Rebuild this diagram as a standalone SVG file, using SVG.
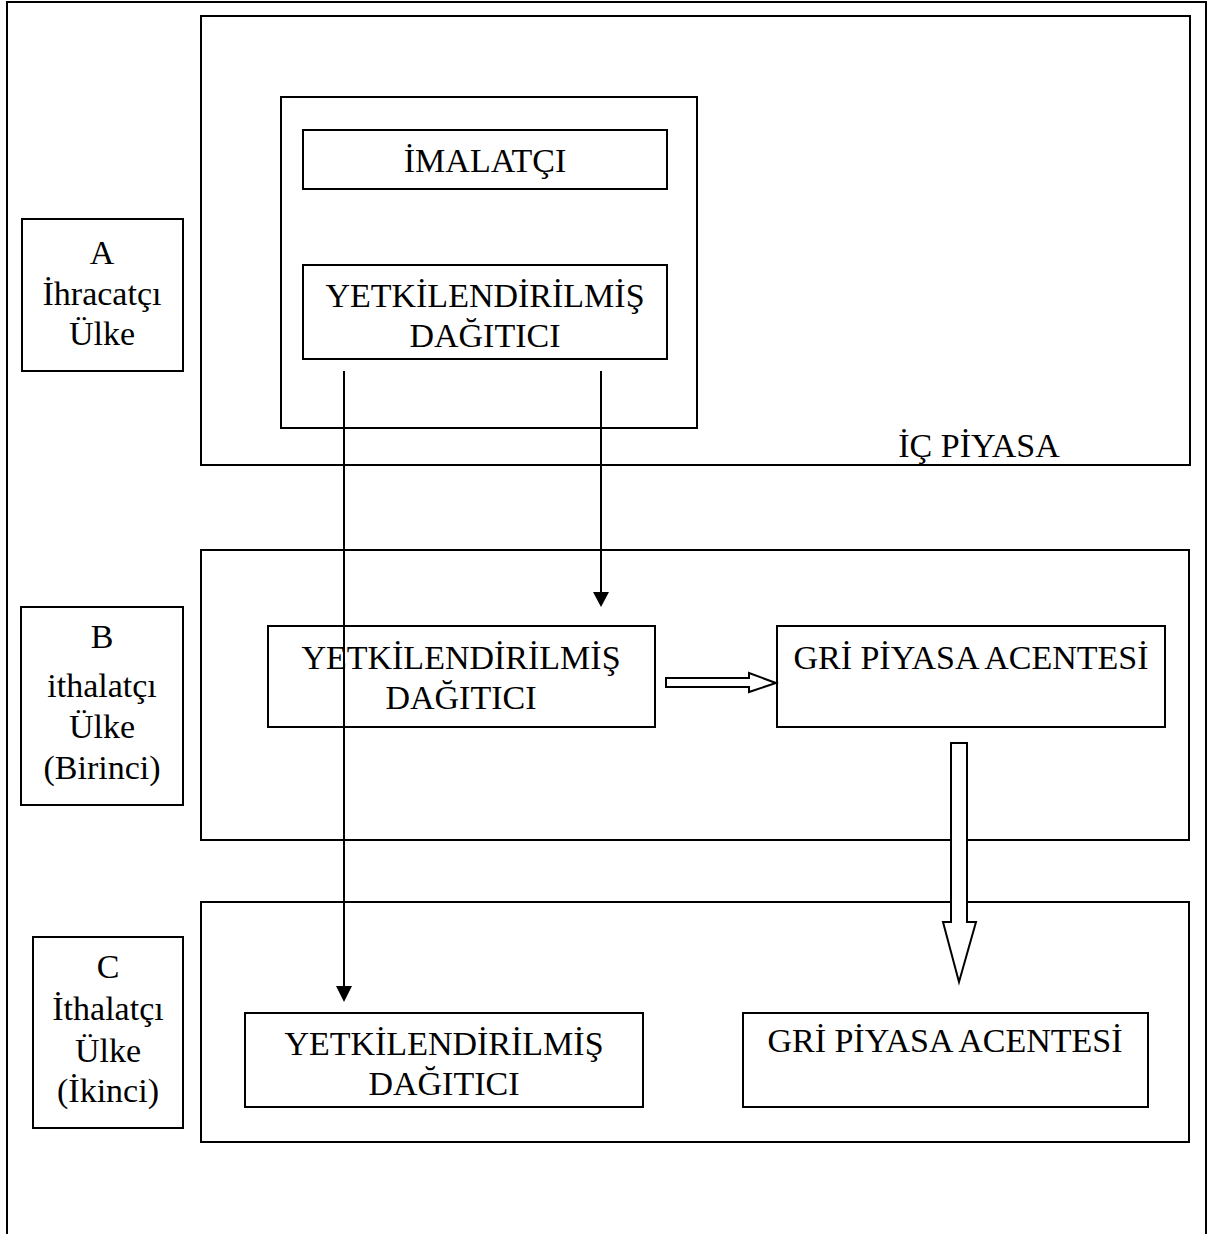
<svg xmlns="http://www.w3.org/2000/svg" width="1209" height="1234" viewBox="0 0 1209 1234">
<style>
.box{fill:#fff;stroke:#000;stroke-width:2}
.frame{fill:none;stroke:#000;stroke-width:2}
.t{font-family:"Liberation Serif","Times New Roman",serif;font-size:34px;fill:#000;text-anchor:middle}
.ln{stroke:#000;stroke-width:2;fill:none}
.hol{fill:#fff;stroke:#000;stroke-width:2;stroke-linejoin:miter}
</style>
<rect width="1209" height="1234" fill="#fff"/>
<path class="frame" d="M7,1234 V2 H1206 V1234" stroke-width="3"/>
<g id="region-a"><rect class="box" x="201" y="16" width="989" height="449"/><text class="t" x="979" y="457">İÇ PİYASA</text></g>
<g id="inner-a"><rect class="box" x="281" y="97" width="416" height="331"/></g>
<g id="imalatci"><rect class="box" x="303" y="130" width="364" height="59"/><text class="t" x="485" y="172">İMALATÇI</text></g>
<g id="yetkili-a"><rect class="box" x="303" y="265" width="364" height="94"/><text class="t" x="485" y="307">YETKİLENDİRİLMİŞ</text><text class="t" x="485" y="347">DAĞITICI</text></g>
<g id="label-a"><rect class="box" x="22" y="219" width="161" height="152"/><text class="t" x="102" y="264">A</text><text class="t" x="102" y="305">İhracatçı</text><text class="t" x="102" y="345">Ülke</text></g>
<g id="region-b"><rect class="box" x="201" y="550" width="988" height="290"/></g>
<g id="label-b"><rect class="box" x="21" y="607" width="162" height="198"/><text class="t" x="102" y="648">B</text><text class="t" x="102" y="697">ithalatçı</text><text class="t" x="102" y="738">Ülke</text><text class="t" x="102" y="779">(Birinci)</text></g>
<g id="yetkili-b"><rect class="box" x="268" y="626" width="387" height="101"/><text class="t" x="461" y="669">YETKİLENDİRİLMİŞ</text><text class="t" x="461" y="709">DAĞITICI</text></g>
<g id="gri-b"><rect class="box" x="777" y="626" width="388" height="101"/><text class="t" x="971" y="669">GRİ PİYASA ACENTESİ</text></g>
<g id="region-c"><rect class="box" x="201" y="902" width="988" height="240"/></g>
<g id="label-c"><rect class="box" x="33" y="937" width="150" height="191"/><text class="t" x="108" y="978">C</text><text class="t" x="108" y="1020">İthalatçı</text><text class="t" x="108" y="1062">Ülke</text><text class="t" x="108" y="1102">(İkinci)</text></g>
<g id="yetkili-c"><rect class="box" x="245" y="1013" width="398" height="94"/><text class="t" x="444" y="1055">YETKİLENDİRİLMİŞ</text><text class="t" x="444" y="1095">DAĞITICI</text></g>
<g id="gri-c"><rect class="box" x="743" y="1013" width="405" height="94"/><text class="t" x="945" y="1052">GRİ PİYASA ACENTESİ</text></g>
<g id="connectors">
<line class="ln" x1="344" y1="371" x2="344" y2="990"/>
<polygon points="336,986 352,986 344,1002" fill="#000"/>
<line class="ln" x1="601" y1="371" x2="601" y2="595"/>
<polygon points="593,592 609,592 601,607" fill="#000"/>
<polygon class="hol" points="666,678 749,678 749,673 776,683 749,692 749,687 666,687"/>
<polygon class="hol" points="951,743 967,743 967,922 976,922 959,982 943,922 951,922"/>
</g>
</svg>
